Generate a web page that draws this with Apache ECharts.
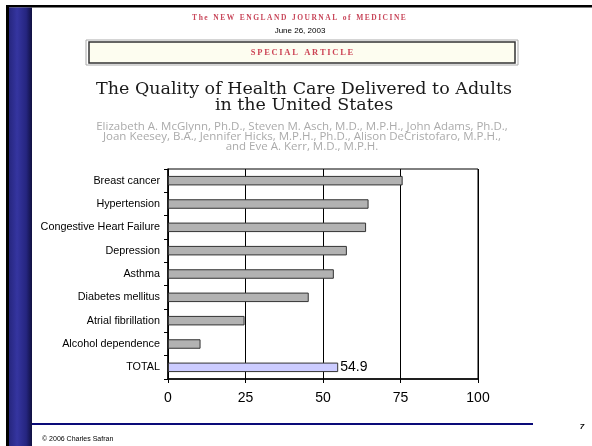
<!DOCTYPE html>
<html>
<head>
<meta charset="utf-8">
<script src="https://cdn.jsdelivr.net/npm/echarts@6/dist/echarts.min.js"></script>
<style>
html,body{margin:0;padding:0;background:#fff;}
#c{width:592px;height:446px;}
</style>
</head>
<body>
<div id="c"></div>
<script>
var categories = ['Breast cancer','Hypertension','Congestive Heart Failure','Depression','Asthma','Diabetes mellitus','Atrial fibrillation','Alcohol dependence','TOTAL'];
var values = [75.7, 64.7, 63.9, 57.7, 53.5, 45.4, 24.7, 10.5, 54.9];
var xTicks = [0, 25, 50, 75, 100];
var headerLines = {
  journal: 'The NEW ENGLAND JOURNAL of MEDICINE',
  date: 'June 26, 2003',
  section: 'SPECIAL ARTICLE',
  title1: 'The Quality of Health Care Delivered to Adults',
  title2: 'in the United States',
  authors1: 'Elizabeth A. McGlynn, Ph.D., Steven M. Asch, M.D., M.P.H., John Adams, Ph.D.,',
  authors2: 'Joan Keesey, B.A., Jennifer Hicks, M.P.H., Ph.D., Alison DeCristofaro, M.P.H.,',
  authors3: 'and Eve A. Kerr, M.D., M.P.H.',
  footer: '\u00A9 2006 Charles Safran',
  page: '7'
};

function spaced(s, sep) {
  return s.split(' ').map(function(w){ return w.split('').join(sep); }).join('   ');
}

var chart = echarts.init(document.getElementById('c'), null, {renderer:'canvas'});
var barData = values.map(function(v, i){
  var isTotal = categories[i] === 'TOTAL';
  return {
    value: v,
    itemStyle: { color: isTotal ? '#ccccff' : '#b2b2b2', borderColor: '#333', borderWidth: 1 },
    label: { show: isTotal, position: 'right', distance: 2, formatter: '{c}', fontSize: 14, color: '#000', fontFamily: 'Liberation Sans, Arial, sans-serif' }
  };
});

var option = {
  animation: false,
  backgroundColor: '#fff',
  grid: { left: 168, right: 114, top: 169, bottom: 67, show: true, borderColor: '#000', borderWidth: 1 },
  xAxis: {
    type: 'value', min: 0, max: 100, interval: 25,
    axisLine: { show: true, lineStyle: { color: '#000', width: 1.5 } },
    axisTick: { show: true, length: 4, lineStyle: { color: '#000' } },
    axisLabel: { fontSize: 14, color: '#000', margin: 12, fontFamily: 'Liberation Sans, Arial, sans-serif',
      formatter: function(v){ return xTicks.indexOf(v) >= 0 ? String(v) : ''; } },
    splitLine: { show: true, lineStyle: { color: '#000', width: 1 } }
  },
  yAxis: {
    type: 'category', data: categories, inverse: true,
    axisLine: { show: true, lineStyle: { color: '#000', width: 1.5 } },
    axisTick: { show: true, length: 4, lineStyle: { color: '#000' } },
    axisLabel: { fontSize: 10.8, color: '#000', margin: 8, fontFamily: 'Liberation Sans, Arial, sans-serif' },
    splitLine: { show: false }
  },
  series: [{
    type: 'bar', data: barData, barWidth: 9.5
  }],
  graphic: [
    { type: 'rect', shape: { x: 6, y: 5, width: 586, height: 2.5 }, style: { fill: '#000' }, silent: true },
    { type: 'rect', shape: { x: 6, y: 5, width: 3, height: 441 }, style: { fill: '#000' }, silent: true },
    { type: 'rect', shape: { x: 9, y: 7.5, width: 23, height: 439 }, silent: true,
      style: { fill: new echarts.graphic.LinearGradient(0, 0, 1, 0, [
        { offset: 0, color: '#26267e' }, { offset: 0.35, color: '#3535a0' },
        { offset: 0.75, color: '#252580' }, { offset: 1, color: '#101040' }]) } },
    { type: 'text', x: 299, y: 18, silent: true,
      style: { text: spaced(headerLines.journal, '\u2009'), fill: '#c8465a', font: 'bold 7.5px "Liberation Serif", serif', align: 'center', verticalAlign: 'middle' } },
    { type: 'text', x: 300, y: 31, silent: true,
      style: { text: headerLines.date, fill: '#000', font: '8px "Liberation Sans", Arial, sans-serif', align: 'center', verticalAlign: 'middle' } },
    { type: 'rect', shape: { x: 86, y: 40, width: 432, height: 25 }, silent: true, style: { fill: '#fff', stroke: '#aaa', lineWidth: 1 } },
    { type: 'rect', shape: { x: 89, y: 42, width: 426, height: 21 }, silent: true, style: { fill: '#fdfdf0', stroke: '#333', lineWidth: 1.5 } },
    { type: 'text', x: 302, y: 52.5, silent: true,
      style: { text: spaced(headerLines.section, '\u2009'), fill: '#cc4455', font: 'bold 8.5px "Liberation Serif", serif', align: 'center', verticalAlign: 'middle' } },
    { type: 'text', x: 304, y: 89, silent: true,
      style: { text: headerLines.title1, fill: '#1a1a1a', font: '17.5px "DejaVu Serif", serif', align: 'center', verticalAlign: 'middle' } },
    { type: 'text', x: 304, y: 105, silent: true,
      style: { text: headerLines.title2, fill: '#1a1a1a', font: '17.5px "DejaVu Serif", serif', align: 'center', verticalAlign: 'middle' } },
    { type: 'text', x: 302, y: 127, silent: true,
      style: { text: headerLines.authors1, fill: '#ababab', font: '11.5px "Open Sans", sans-serif', align: 'center', verticalAlign: 'middle' } },
    { type: 'text', x: 302, y: 137, silent: true,
      style: { text: headerLines.authors2, fill: '#ababab', font: '11.5px "Open Sans", sans-serif', align: 'center', verticalAlign: 'middle' } },
    { type: 'text', x: 302, y: 147, silent: true,
      style: { text: headerLines.authors3, fill: '#ababab', font: '11.5px "Open Sans", sans-serif', align: 'center', verticalAlign: 'middle' } },
    { type: 'rect', shape: { x: 32, y: 423, width: 501, height: 2 }, silent: true, style: { fill: '#0a0a78' } },
    { type: 'text', x: 42, y: 439, silent: true,
      style: { text: headerLines.footer, fill: '#000', font: '7px "Liberation Sans", Arial, sans-serif', align: 'left', verticalAlign: 'middle' } },
    { type: 'text', x: 582, y: 427, silent: true,
      style: { text: headerLines.page, fill: '#000', font: 'italic bold 8px "Liberation Sans", Arial, sans-serif', align: 'center', verticalAlign: 'middle' } }
  ]
};
chart.setOption(option);
</script>
</body>
</html>
